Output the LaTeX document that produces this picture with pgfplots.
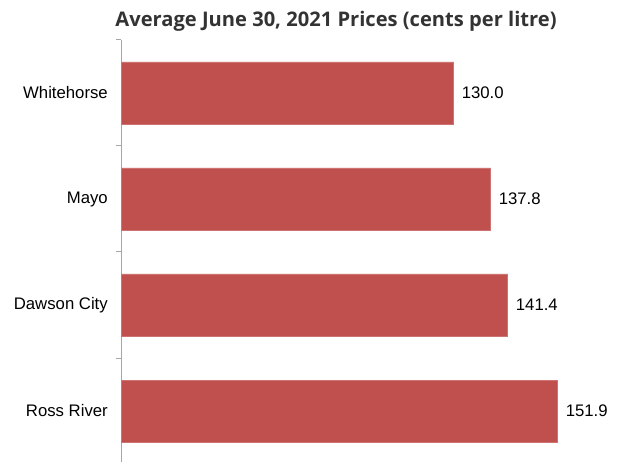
\documentclass[border=0pt]{standalone}
\usepackage{pgfplots}
\pgfplotsset{compat=1.18}
\usepackage{fontspec}
\setmainfont{Liberation Sans}
\newfontfamily\titlefont{Open Sans}
\definecolor{barred}{HTML}{C0504D}
\definecolor{axgray}{HTML}{A6A6A6}
\definecolor{titlegray}{HTML}{333333}
\begin{document}
\begin{tikzpicture}[x=1bp,y=1bp]
\path[use as bounding box] (0,0) rectangle (618,462);
\begin{axis}[
  at={(121bp,-2bp)}, anchor=south west,
  scale only axis, width=475bp, height=424bp,
  xmin=60, xmax=160, ymin=-0.5, ymax=3.5, y dir=reverse,
  xbar, bar width=62bp,
  axis x line=none,
  axis y line*=left,
  y axis line style={draw=axgray, line width=1bp, -},
  ytick={0,1,2,3},
  yticklabels={Whitehorse,Mayo,Dawson City,Ross River},
  major tick length=0pt,
  extra y ticks={-0.5,0.5,1.5,2.5,3.5},
  extra y tick labels={},
  extra y tick style={major tick length=5bp, tick align=outside, tick style={draw=axgray, line width=1bp}},
  yticklabel style={font=\fontsize{16.8}{18}\selectfont, inner sep=0pt, xshift=-13bp},
  /pgf/number format/assume math mode=true,
  nodes near coords={\pgfmathprintnumber[fixed,fixed zerofill,precision=1,assume math mode=true]{\pgfplotspointmeta}},
  point meta=x,
  nodes near coords style={font=\fontsize{16.8}{18}\selectfont, inner sep=0pt, anchor=west, xshift=8bp},
  clip=false,
]
\addplot[fill=barred, draw=barred!80!white, line width=0.5bp] coordinates {(130.0,0) (137.8,1) (141.4,2) (151.9,3)};
\end{axis}
\node[font=\titlefont\bfseries\fontsize{20.2}{22}\selectfont, text=titlegray] at (336,441) {Average June 30, 2021 Prices (cents per litre)};
\end{tikzpicture}
\end{document}
